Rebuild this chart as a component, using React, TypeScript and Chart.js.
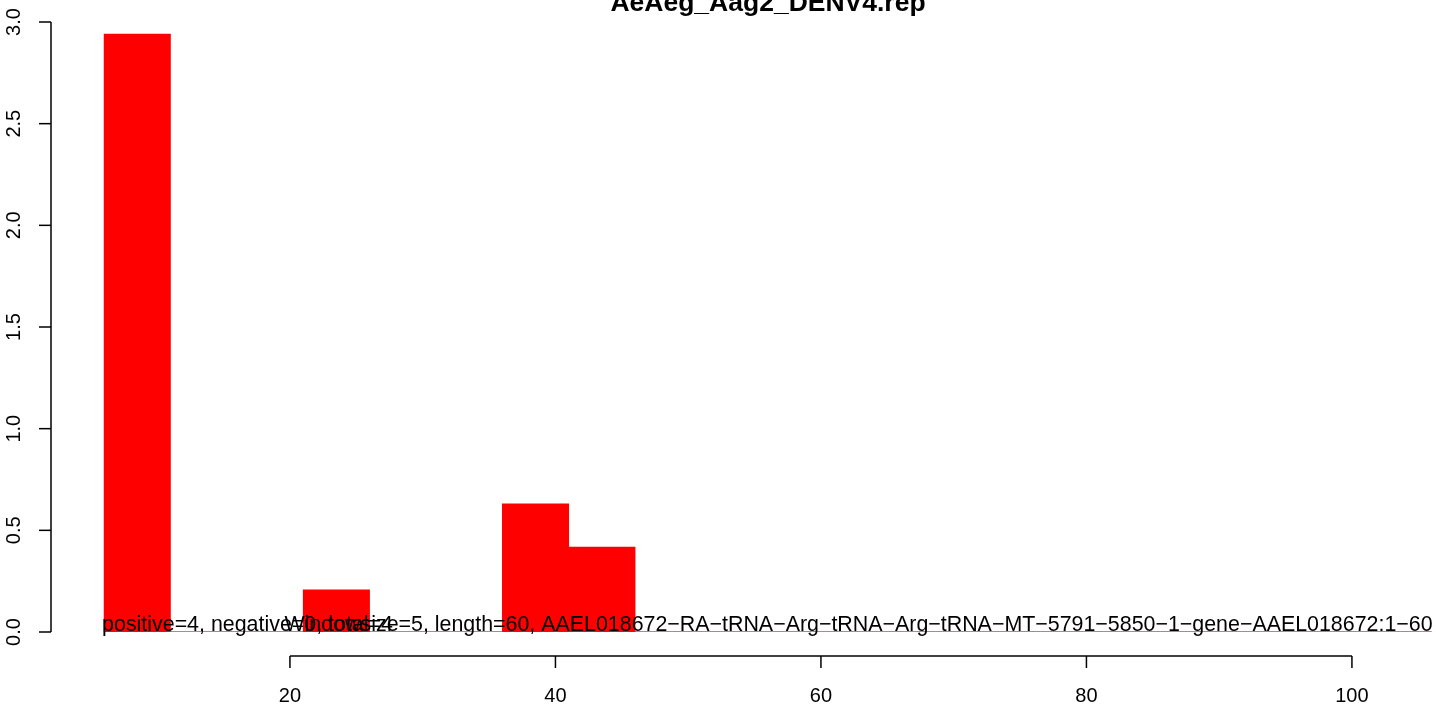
import React, { useEffect, useRef } from "react";
import { Chart, registerables } from "chart.js";

Chart.register(...registerables);

// Bin centres (window size 5) and their values
const binCenters = [8.5, 13.5, 18.5, 23.5, 28.5, 33.5, 38.5, 43.5, 48.5, 53.5, 58.5, 63.5, 68.5, 73.5, 78.5, 83.5, 88.5, 93.5, 98.5, 103.5];
const binValues = [2.94, 0, 0, 0.207, 0, 0, 0.63, 0.418, 0, 0, 0, 0, 0, 0, 0, 0, 0, 0, 0, 0];
const baselineRange = [6, 106];

const xTicks = [20, 40, 60, 80, 100];
const yTicks = [0, 0.5, 1.0, 1.5, 2.0, 2.5, 3.0];
const yTickLabels = ["0.0", "0.5", "1.0", "1.5", "2.0", "2.5", "3.0"];

const title = "AeAeg_Aag2_DENV4.rep";
const leftNote = "positive=4, negative=0, total=4";
const rightNote = "Windowsize=5, length=60, AAEL018672\u2212RA\u2212tRNA\u2212Arg\u2212tRNA\u2212Arg\u2212tRNA\u2212MT\u22125791\u22125850\u22121\u2212gene\u2212AAEL018672:1\u221260";

const FONT = '"Liberation Sans", Arial, Helvetica, sans-serif';

export default function App() {
  const ref = useRef<HTMLCanvasElement | null>(null);

  useEffect(() => {
    const canvas = ref.current;
    if (!canvas) return;

    const rAxes = {
      id: "rAxes",
      afterDraw(chart: any) {
        const ctx = chart.ctx as CanvasRenderingContext2D;
        const xs = chart.scales.x;
        const ys = chart.scales.y;
        ctx.save();
        ctx.strokeStyle = "#000";
        ctx.fillStyle = "#000";
        ctx.lineWidth = 1.5;

        // Y axis
        const yAxisX = chart.chartArea.left;
        ctx.beginPath();
        ctx.moveTo(yAxisX, ys.getPixelForValue(yTicks[0]));
        ctx.lineTo(yAxisX, ys.getPixelForValue(yTicks[yTicks.length - 1]));
        ctx.stroke();
        ctx.font = `20px ${FONT}`;
        yTicks.forEach((v, i) => {
          const py = ys.getPixelForValue(v);
          ctx.beginPath();
          ctx.moveTo(yAxisX, py);
          ctx.lineTo(yAxisX - 12, py);
          ctx.stroke();
          ctx.save();
          ctx.translate(20, py);
          ctx.rotate(-Math.PI / 2);
          ctx.textAlign = "center";
          ctx.textBaseline = "alphabetic";
          ctx.fillText(yTickLabels[i], 0, 0);
          ctx.restore();
        });

        // X axis
        const xAxisY = 656;
        ctx.beginPath();
        ctx.moveTo(xs.getPixelForValue(xTicks[0]), xAxisY);
        ctx.lineTo(xs.getPixelForValue(xTicks[xTicks.length - 1]), xAxisY);
        ctx.stroke();
        ctx.textAlign = "center";
        ctx.textBaseline = "alphabetic";
        xTicks.forEach((v) => {
          const px = xs.getPixelForValue(v);
          ctx.beginPath();
          ctx.moveTo(px, xAxisY);
          ctx.lineTo(px, xAxisY + 12);
          ctx.stroke();
          ctx.fillText(String(v), px, 702);
        });

        // Notes
        ctx.font = `21.4px ${FONT}`;
        const by = ys.getPixelForValue(0) - 1;
        ctx.textAlign = "left";
        ctx.fillText(leftNote, xs.getPixelForValue(baselineRange[0]) - 2, by);
        ctx.textAlign = "right";
        ctx.fillText(rightNote, xs.getPixelForValue(baselineRange[1]) + 1, by);

        // Title
        ctx.font = `bold 26.5px ${FONT}`;
        ctx.textAlign = "center";
        ctx.fillText(title, 768, 10.5);
        ctx.restore();
      },
    };

    const chart = new Chart(canvas, {
      type: "bar",
      data: {
        datasets: [
          {
            type: "line",
            data: baselineRange.map((x) => ({ x, y: 0 })),
            borderColor: "#555",
            borderWidth: 1,
            pointRadius: 0,
            order: 0,
          } as any,
          {
            type: "bar",
            data: binCenters.map((x, i) => ({ x, y: binValues[i] })),
            backgroundColor: "#ff0000",
            borderWidth: 0,
            barPercentage: 1,
            categoryPercentage: 1,
            order: 1,
          } as any,
        ],
      },
      options: {
        animation: false,
        responsive: false,
        maintainAspectRatio: false,
        devicePixelRatio: 1,
        layout: { padding: { left: 51, right: 0, top: 22, bottom: 75 } },
        plugins: { legend: { display: false }, tooltip: { enabled: false }, title: { display: false } },
        scales: {
          x: { type: "linear", min: 2, max: 106.333, offset: false, display: false },
          y: { type: "linear", min: 0, max: 3, display: false },
        },
      },
      plugins: [rAxes],
    });
    return () => chart.destroy();
  }, []);

  return (
    <div style={{ position: "absolute", left: 0, top: 0, width: 1436, height: 707, background: "#fff" }}>
      <canvas ref={ref} width={1436} height={707} style={{ width: 1436, height: 707, display: "block" }} />
    </div>
  );
}
